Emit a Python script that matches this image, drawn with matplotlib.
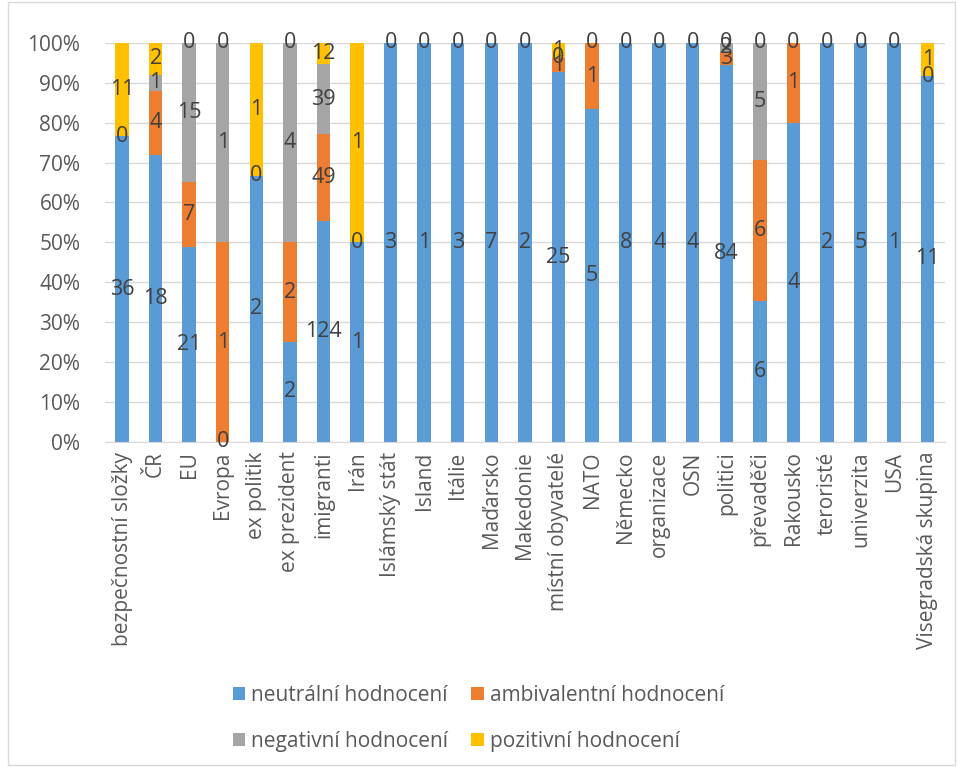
import matplotlib.pyplot as plt
import numpy as np
from matplotlib.patches import Rectangle

plt.rcParams['font.family'] = ['Open Sans', 'DejaVu Sans']

categories = ['bezpečnostní složky', 'ČR', 'EU', 'Evropa', 'ex politik', 'ex prezident',
              'imigranti', 'Irán', 'Islámský stát', 'Island', 'Itálie', 'Maďarsko',
              'Makedonie', 'místní obyvatelé', 'NATO', 'Německo', 'organizace', 'OSN',
              'politici', 'převaděči', 'Rakousko', 'teroristé', 'univerzita', 'USA',
              'Visegradská skupina']

nan = np.nan
neutralni = [36, 18, 21, 0, 2, 2, 124, 1, 3, 1, 3, 7, 2, 25, 5, 8, 4, 4, 84, 6, 4, 2, 5, 1, 11]
ambivalentni = [0, 4, 7, 1, 0, 2, 49, 0, nan, nan, nan, nan, nan, 1, 1, nan, nan, nan, 3, 6, 1, nan, nan, nan, nan]
negativni = [nan, 1, 15, 1, nan, 4, 39, nan, nan, nan, nan, nan, nan, 0, nan, nan, nan, nan, 2, 5, nan, nan, nan, nan, 0]
pozitivni = [11, 2, 0, 0, 1, 0, 12, 1, 0, 0, 0, 0, 0, 1, 0, 0, 0, 0, 0, 0, 0, 0, 0, 0, 1]

series = [('neutrální hodnocení', neutralni, '#5B9BD5'),
          ('ambivalentní hodnocení', ambivalentni, '#ED7D31'),
          ('negativní hodnocení', negativni, '#A5A5A5'),
          ('pozitivní hodnocení', pozitivni, '#FFC000')]

data = np.array([s[1] for s in series], dtype=float)
totals = np.nansum(data, axis=0)
pct = np.nan_to_num(data) / totals * 100

fig = plt.figure(figsize=(9.57, 7.67), dpi=100)
ax = fig.add_axes([0.11, 0.424, 0.877, 0.52])

x = np.arange(len(categories))
bottom = np.zeros(len(categories))
handles = []
for i, (name, vals, color) in enumerate(series):
    h = ax.bar(x, pct[i], 0.4, bottom=bottom, color=color, label=name, zorder=2)
    handles.append(h)
    # labels sit in the middle of each segment, blanks get no label
    for j in range(len(categories)):
        if not np.isnan(data[i, j]):
            ax.text(x[j], bottom[j] + pct[i, j] / 2, '%d' % data[i, j],
                    ha='center', va='center', fontsize=15.5, color='#404040', zorder=3)
    bottom += pct[i]

ax.set_xlim(-0.5, len(categories) - 0.5)
ax.set_ylim(0, 100)
ax.set_yticks(np.arange(0, 101, 10))
ax.set_yticklabels(['%d%%' % v for v in range(0, 101, 10)])
ax.set_xticks(x)
ax.set_xticklabels(categories, rotation=90)
ax.tick_params(axis='both', length=0, labelsize=15, colors='#595959')
ax.tick_params(axis='y', pad=18)
ax.tick_params(axis='x', pad=7)
ax.grid(axis='y', color='#D9D9D9', linewidth=1, zorder=0)
for sp in ['top', 'right', 'left']:
    ax.spines[sp].set_visible(False)
ax.spines['bottom'].set_color('#D9D9D9')

# legend filled row by row like the original
order = [0, 2, 1, 3]
fig.legend([handles[k] for k in order], [series[k][0] for k in order],
           loc='center', bbox_to_anchor=(0.5, 0.063), ncol=2, frameon=False,
           fontsize=15, handlelength=0.6, handleheight=0.6, handletextpad=0.3,
           columnspacing=1.1, labelspacing=1.2, labelcolor='#595959')

fig.patches.append(Rectangle((0.008, 0.003), 0.99, 0.994, transform=fig.transFigure,
                             fill=False, edgecolor='#D9D9D9', linewidth=1))

fig.savefig('out.png', dpi=100)
